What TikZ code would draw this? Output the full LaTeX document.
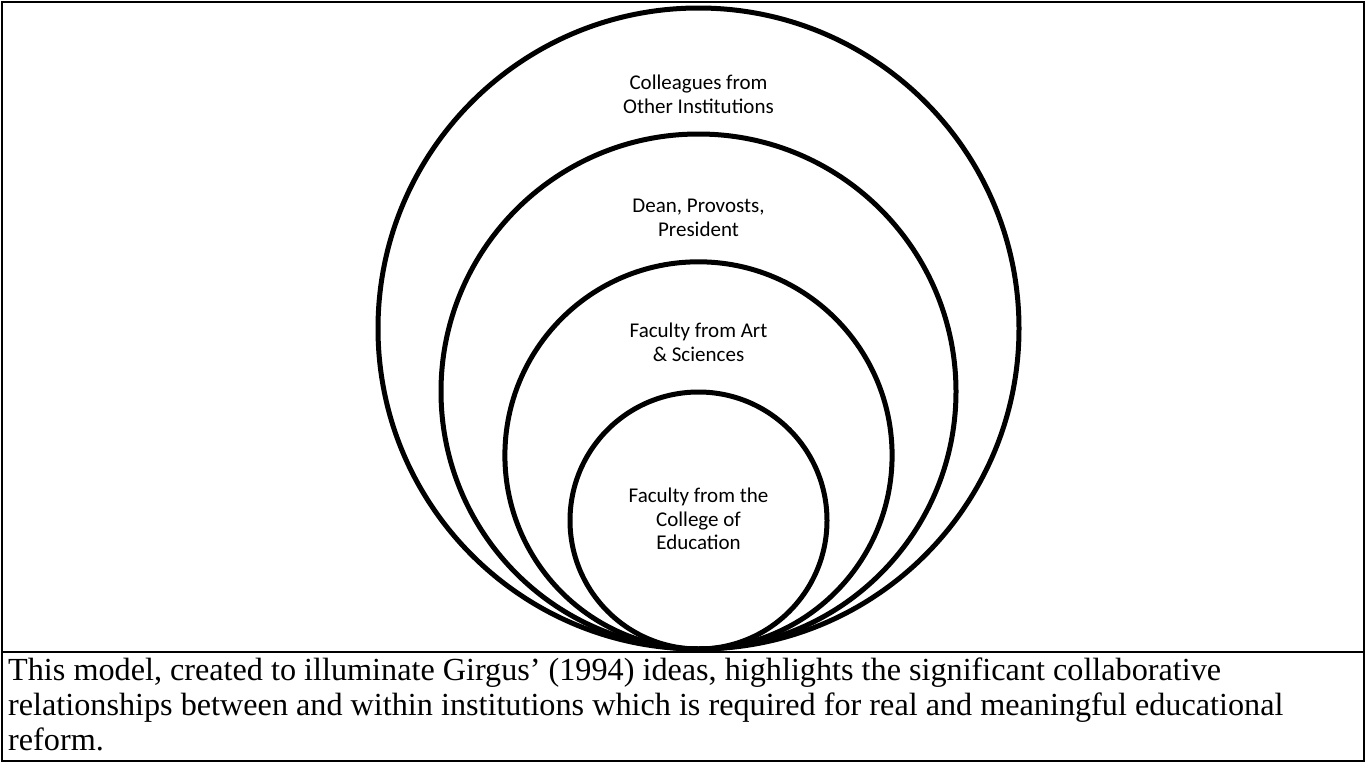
\documentclass[tikz,border=0pt]{standalone}
\usepackage{fontspec}
\setmainfont{Liberation Serif}
\newfontfamily\lblfont{Carlito}
\begin{document}
\begin{tikzpicture}[x=1pt,y=-1pt,
  ring/.style={circle, draw, line width=5pt, inner sep=0pt},
  lab/.style={font=\lblfont\fontsize{21}{23.5}\selectfont, align=center, inner sep=0pt, anchor=north},
  capline/.style={font=\fontsize{32.2}{35}\selectfont, anchor=base west, inner sep=0pt},
  frame/.style={line width=2.5pt}]
\useasboundingbox (0,0) rectangle (1366,763);
\coordinate (tl) at (2,2);
\coordinate (br) at (1364,761);
\coordinate (sepL) at (2,652);
\coordinate (sepR) at (1364,652);
\draw[frame] (tl) rectangle (br);
\draw[frame] (sepL) -- (sepR);
\node[ring, minimum size=641pt] (outer) at (698.5,328.5) {};
\node[ring, minimum size=515pt] (second) at (698.5,391.5) {};
\node[ring, minimum size=387.2pt] (third) at (698.5,455.4) {};
\node[ring, minimum size=257pt] (inner) at (698.5,520.5) {};
\node[lab] (lcol) at (698.5,75) {Colleagues from\\Other Institutions};
\node[lab] (ldean) at (698.5,199) {Dean, Provosts,\\President};
\node[lab] (lart) at (698.5,323) {Faculty from Art\\\& Sciences};
\node[lab] (ledu) at (698.5,488) {Faculty from the\\College of\\Education};
\node[capline] (cap1) at (8,680) {This model, created to illuminate Girgus’ (1994) ideas, highlights the significant collaborative};
\node[capline] (cap2) at (8,715) {relationships between and within institutions which is required for real and meaningful educational};
\node[capline] (cap3) at (8,750) {reform.};
\end{tikzpicture}
\end{document}
